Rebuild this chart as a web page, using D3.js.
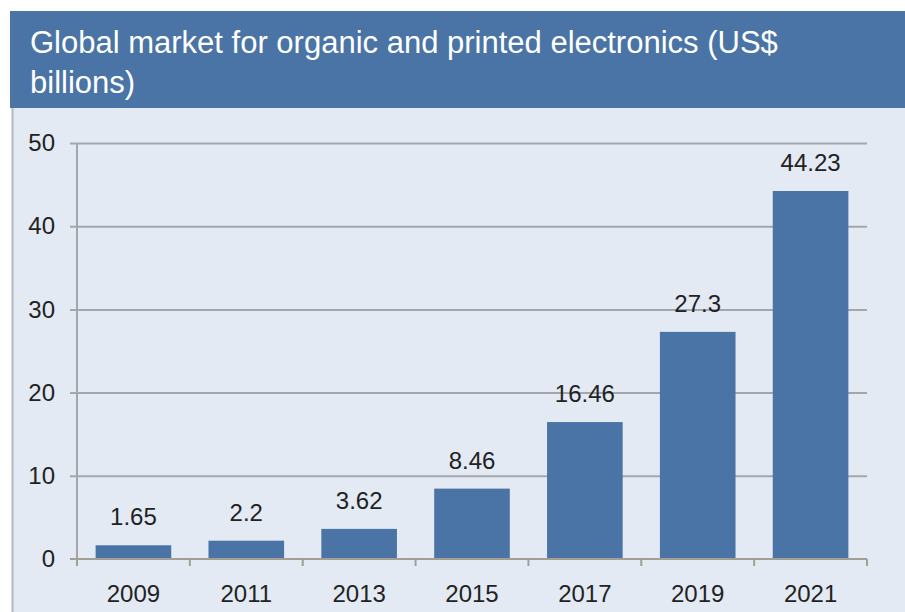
<!DOCTYPE html>
<html>
<head>
<meta charset="utf-8">
<script src="https://cdn.jsdelivr.net/npm/d3@7"></script>
<style>
  html, body { margin: 0; padding: 0; background: #ffffff; }
  svg { display: block; }
  text { font-family: "Liberation Sans", Arial, Helvetica, sans-serif; }
</style>
</head>
<body>
<svg id="chart" width="905" height="612"></svg>
<script>
// Market size by year, US$ billions
const years = ["2009", "2011", "2013", "2015", "2017", "2019", "2021"];
const marketValues = [1.65, 2.2, 3.62, 8.46, 16.46, 27.3, 44.23];
const yTicks = [0, 10, 20, 30, 40, 50];
const titleLines = ["Global market for organic and printed electronics (US$", "billions)"];

const W = 905, H = 612;
const svg = d3.select("#chart");

// Header band and body panel
svg.append("rect").attr("x", 10).attr("y", 11).attr("width", W - 10).attr("height", 97)
  .attr("fill", "#4a74a6");
svg.append("rect").attr("x", 12).attr("y", 108).attr("width", W - 12).attr("height", H - 108)
  .attr("fill", "#e3eaf3");
svg.append("line").attr("x1", 12.5).attr("x2", 12.5).attr("y1", 108).attr("y2", H)
  .attr("stroke", "#b4b8bd").attr("stroke-width", 2);

// Title, two lines, sized so the first line spans the header
const title = svg.append("g");
const t1 = title.append("text").attr("x", 30).attr("y", 53).attr("fill", "#ffffff")
  .attr("font-size", 28).text(titleLines[0]);
const w1 = t1.node().getComputedTextLength();
const fs = 28 * 748 / w1;
t1.attr("font-size", fs);
title.append("text").attr("x", 30).attr("y", 93).attr("fill", "#ffffff")
  .attr("font-size", fs).text(titleLines[1]);

// Plot area
const plotLeft = 77, plotRight = 867, plotTop = 143, plotBottom = 559;
const x = d3.scaleBand().domain(years).range([plotLeft, plotRight]).paddingInner(0.33).paddingOuter(0.165);
const y = d3.scaleLinear().domain([0, 50]).range([plotBottom, plotTop]);
const gridColor = "#a3a7ac";

// Horizontal gridlines with short outward ticks
const grid = svg.append("g")
  .attr("transform", `translate(${plotLeft},0)`)
  .call(d3.axisLeft(y).tickValues(yTicks.filter(v => v > 0)).tickSize(-(plotRight - plotLeft)).tickFormat(""));
grid.select(".domain").remove();
grid.selectAll(".tick line").attr("stroke", gridColor).attr("stroke-width", 2).attr("x1", -7);

// Y tick labels
const yAxis = svg.append("g")
  .attr("transform", `translate(${plotLeft},0)`)
  .call(d3.axisLeft(y).tickValues(yTicks).tickSize(0).tickPadding(22));
yAxis.select(".domain").remove();
yAxis.selectAll(".tick text").attr("font-size", 24).attr("fill", "#222").attr("font-family", "Liberation Sans, Arial, sans-serif");

// Bars
svg.append("g").selectAll("rect").data(years).join("rect")
  .attr("x", d => x(d))
  .attr("width", x.bandwidth())
  .attr("y", (d, i) => y(marketValues[i]))
  .attr("height", (d, i) => y(0) - y(marketValues[i]))
  .attr("fill", "#4a74a6");

// Value labels
svg.append("g").selectAll("text").data(years).join("text")
  .attr("x", d => x(d) + x.bandwidth() / 2)
  .attr("y", (d, i) => y(marketValues[i]) - 20)
  .attr("text-anchor", "middle")
  .attr("font-size", 24).attr("fill", "#222")
  .text((d, i) => marketValues[i]);

// Y axis line
svg.append("line").attr("x1", plotLeft).attr("x2", plotLeft).attr("y1", plotTop).attr("y2", plotBottom + 6)
  .attr("stroke", gridColor).attr("stroke-width", 2);

// X axis with category boundary ticks
const xAxis = svg.append("g").attr("transform", `translate(0,${plotBottom})`);
xAxis.append("line").attr("x1", plotLeft - 7).attr("x2", plotRight).attr("y1", 0).attr("y2", 0)
  .attr("stroke", "#a39e96").attr("stroke-width", 2);
const step = x.step();
xAxis.selectAll("line.b").data(d3.range(years.length + 1)).join("line").attr("class", "b")
  .attr("x1", i => plotLeft + i * step).attr("x2", i => plotLeft + i * step)
  .attr("y1", 0).attr("y2", 7)
  .attr("stroke", "#a39e96").attr("stroke-width", 2);
xAxis.selectAll("text").data(years).join("text")
  .attr("x", d => x(d) + x.bandwidth() / 2)
  .attr("y", 43)
  .attr("text-anchor", "middle")
  .attr("font-size", 24).attr("fill", "#222")
  .text(d => d);
</script>
</body>
</html>
